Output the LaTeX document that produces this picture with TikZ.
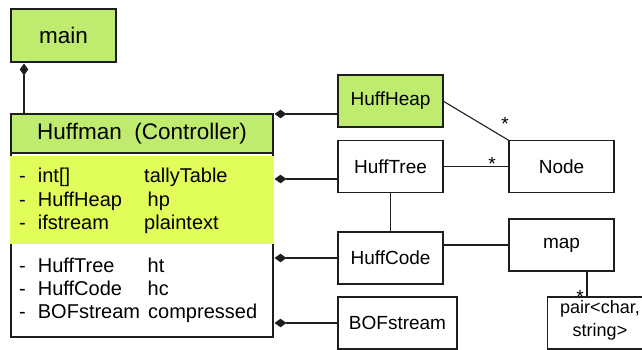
\documentclass[tikz,border=0pt]{standalone}
\usepackage{fontspec}
\setmainfont{Liberation Sans}
\usetikzlibrary{arrows.meta,calc}
\definecolor{umlgreen}{HTML}{BFEB6F}
\definecolor{umlyellow}{HTML}{E0FD5A}
\definecolor{umlline}{HTML}{1E1E1E}
% an asterisk whose box hugs its ink, so it can sit close to a border
\newcommand{\multstar}{\raisebox{-8pt}[5.6pt][0pt]{*}}
\begin{document}
\begin{tikzpicture}[x=1pt,y=-1pt,
  cls/.style={draw=umlline, line width=1.1pt, minimum width=105pt, minimum height=52pt,
              inner sep=0pt, outer sep=0pt, fill=white, font=\fontsize{19}{23}\selectfont},
  hot/.style={fill=umlgreen},
  link/.style={draw=umlline, line width=1.1pt},
  comp/.style={link, {Diamond[length=12pt,width=8.5pt]}-, shorten <=1.5pt},
  member/.style={anchor=base west, inner sep=0pt, font=\fontsize{20}{24}\selectfont},
  mult/.style={anchor=base, inner sep=0pt, font=\fontsize{19}{23}\selectfont}]
\useasboundingbox (0,0) rectangle (642,350);
\clip (0,0) rectangle (642,350);

% entry point
\node[cls, hot, minimum height=53pt, font=\fontsize{22.5}{27}\selectfont] (main) at (63.5,35.5) {main};

% controller class: body, header, highlighted members
\node[cls, minimum width=262pt, minimum height=184pt] (huff) at (142,245) {};
\node[cls, hot, minimum width=262pt, minimum height=39pt, font=\fontsize{22.5}{27}\selectfont]
  (huffhead) at (142,133.5) {Huffman\ \ (Controller)};
\fill[umlyellow] (10.4,156) rectangle (273.6,244);

% member list
\foreach \y/\ty/\nx/\nm in {182.7/int[]/144/tallyTable, 206/HuffHeap/147.5/hp, 229.3/ifstream/144/plaintext,
                            272/HuffTree/147.5/ht, 295.3/HuffCode/147.5/hc, 318.7/BOFstream/148/compressed}{
  \node[member] at (19,\y) {-};
  \node[member] at (37.7,\y) {\ty};
  \node[member] at (\nx,\y) {\nm};
}

% collaborator classes
\node[cls, hot] (heap) at (390.5,101) {HuffHeap};
\node[cls] (tree) at (390.5,166.5) {HuffTree};
\node[cls] (nodecls) at (561.5,166.5) {Node};
\node[cls] (code) at (390.5,258) {HuffCode};
\node[cls] (map) at (561.5,245) {map};
\node[cls, minimum width=119pt] (bof) at (397.5,323) {BOFstream};
\node[cls] (pair) at (600,323) {};
\node[inner sep=0pt, align=center, font=\fontsize{18}{23}\selectfont] (pairtext) at (600,320) {pair<char,\\string>};

% composition links
\coordinate (m1) at ($(main.south west)+(13,0)$);
\draw[comp] (m1) -- (m1 |- huffhead.north);
\draw[comp] (huffhead.north east) -- (huffhead.north east -| heap.west);
\coordinate (c2) at ($(huff.north east)+(0,26)$);
\draw[comp] (c2) -- (c2 -| tree.west);
\draw[comp] (huff.east |- code.west) -- (code.west);
\draw[comp] (huff.east |- bof.west) -- (bof.west);

% associations
\draw[link] (heap.east) -- (nodecls.north west);
\draw[link] (tree.east) -- (nodecls.west);
\draw[link] (tree.south) -- (code.north);
\draw[link] (code.east |- map.west) -- (map.west);
\coordinate (m2) at ($(map.south)+(25.5,0)$);
\draw[link] (m2) -- (m2 |- pair.north);

% multiplicities
\node[mult] at (505,122.5) {\multstar};
\node[mult] at (492,162.5) {\multstar};
\node[mult] at (580,295.5) {\multstar};
\end{tikzpicture}
\end{document}
